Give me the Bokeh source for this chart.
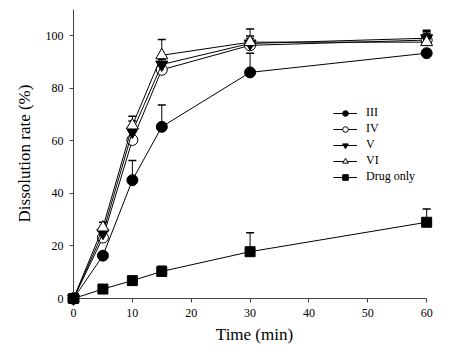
from bokeh.plotting import figure
from bokeh.models import Legend, LegendItem, Whisker, TeeHead, ColumnDataSource, FixedTicker
from bokeh.embed import file_html
from bokeh.resources import INLINE

times = [0, 5, 10, 15, 30, 60]
iii = [0, 16.3, 45.0, 65.3, 86.0, 93.3]
iii_err = [0, 0.5, 7.5, 8.3, 7.3, 0.5]
iv = [0, 23.2, 60.3, 87.0, 96.3, 98.3]
iv_err = [0, 3.0, 3.0, 2.0, 3.5, 2.5]
v = [0, 25.0, 63.5, 89.0, 97.0, 99.0]
v_err = [0, 2.0, 4.0, 2.0, 2.0, 2.5]
vi = [0, 27.0, 65.8, 92.5, 97.5, 97.5]
vi_err = [0, 2.0, 3.5, 6.0, 5.0, 4.5]
drug = [0, 3.6, 6.8, 10.3, 17.8, 29.0]
drug_err = [0, 0.5, 0.8, 2.0, 7.2, 5.0]

series_names = ["III", "IV", "V", "VI", "Drug only"]

FONT = "Liberation Serif"

p = figure(width=445, height=350, output_backend="svg", toolbar_location=None,
           x_range=(0, 61.5), y_range=(0, 110.3),
           min_border_left=73, min_border_right=10, min_border_top=8, min_border_bottom=52)
p.outline_line_color = None
p.grid.visible = False
p.background_fill_color = "white"

for ax in (p.xaxis[0], p.yaxis[0]):
    ax.major_label_text_font = FONT
    ax.major_label_text_font_size = "12px"
    ax.major_label_text_color = "black"
    ax.axis_label_text_font = FONT
    ax.axis_label_text_font_size = "17px"
    ax.axis_label_text_font_style = "normal"
    ax.axis_label_text_color = "black"
    ax.minor_tick_line_color = None
    ax.major_tick_in = 0
    ax.major_tick_out = 4
    ax.axis_line_color = "#444444"
    ax.major_tick_line_color = "#444444"

p.xaxis.axis_label = "Time (min)"
p.yaxis.axis_label = "Dissolution rate (%)"
p.xaxis.ticker = FixedTicker(ticks=[0, 10, 20, 30, 40, 50, 60])
p.yaxis.ticker = FixedTicker(ticks=[0, 20, 40, 60, 80, 100])
p.xaxis.bounds = (0, 60)
p.yaxis.bounds = (0, 110)
p.xaxis.major_label_standoff = 6
p.yaxis.major_label_standoff = 6
p.xaxis.axis_label_standoff = 5
p.yaxis.axis_label_standoff = 9

data = [
    (iii, iii_err, "circle", "black", 11),
    (iv, iv_err, "circle", "white", 11),
    (v, v_err, "inverted_triangle", "black", 12),
    (vi, vi_err, "triangle", "white", 12),
    (drug, drug_err, "square", "black", 10),
]

items = []
for name, (vals, errs, marker, fill, size) in zip(series_names, data):
    src = ColumnDataSource(dict(x=times, y=vals,
                                upper=[a + b for a, b in zip(vals, errs)]))
    w = Whisker(source=src, base="x", lower="y", upper="upper", dimension="height",
                line_color="black", line_width=1,
                lower_head=None, upper_head=TeeHead(size=8, line_color="black", line_width=1.5))
    p.add_layout(w)
    ln = p.line("x", "y", source=src, line_color="black", line_width=1, level="overlay")
    sc = p.scatter("x", "y", source=src, marker=marker, size=size,
                   fill_color=fill, line_color="black", line_width=1, level="overlay")
    items.append(LegendItem(label=name, renderers=[ln, sc]))

legend = Legend(items=items, location=(260, 114), padding=0, margin=0,
                border_line_color=None, background_fill_alpha=0,
                glyph_width=24, glyph_height=14, label_height=14, spacing=1,
                label_standoff=9, label_text_font=FONT, label_text_font_size="12px",
                label_text_color="black")
p.add_layout(legend)

open("out.html", "w").write(file_html(p, INLINE))
